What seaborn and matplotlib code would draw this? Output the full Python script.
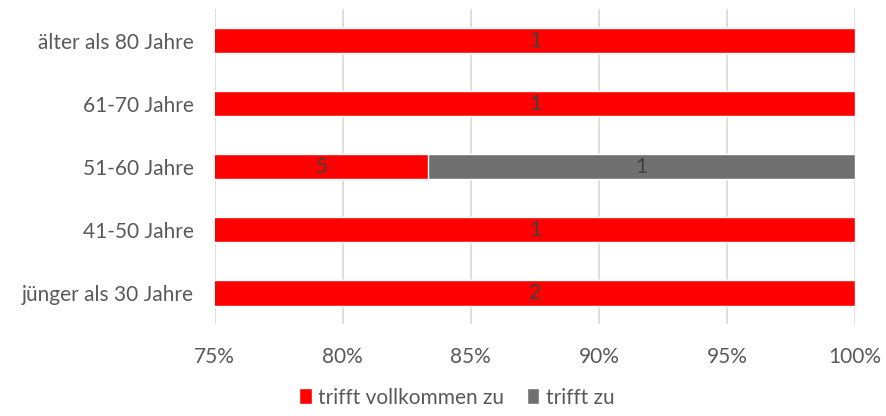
import numpy as np
import pandas as pd
import seaborn as sns
import matplotlib.pyplot as plt
from matplotlib.patches import Patch
from matplotlib.ticker import PercentFormatter

categories = ["älter als 80 Jahre", "61-70 Jahre", "51-60 Jahre", "41-50 Jahre", "jünger als 30 Jahre"]
voll = [1, 1, 5, 1, 2]      # trifft vollkommen zu
zu = [0, 0, 1, 0, 0]        # trifft zu
series_names = ["trifft vollkommen zu", "trifft zu"]

RED = "#ff0000"
GREY = "#707070"
TXT = "#595959"
FS = 15

sns.set_theme(style="white")
plt.rcParams['font.family'] = ['Lato', 'DejaVu Sans']

df = pd.DataFrame({"cat": categories, "voll": voll, "zu": zu})
df["total"] = df["voll"] + df["zu"]
df["p_voll"] = df["voll"] / df["total"] * 100
df["p_all"] = 100.0

fig, ax = plt.subplots(figsize=(8.87, 4.16), dpi=100)
fig.subplots_adjust(left=0.242, right=0.964, top=0.978, bottom=0.22)

sns.barplot(data=df, y="cat", x="p_all", color=GREY, orient="h", width=0.4,
            ax=ax, saturation=1, zorder=3)
sns.barplot(data=df, y="cat", x="p_voll", color=RED, orient="h", width=0.4,
            ax=ax, saturation=1, zorder=3)

xmin, xmax = 75, 100
ax.set_xlim(xmin, xmax)
ax.xaxis.set_major_formatter(PercentFormatter(decimals=0))
ax.set_xticks(np.arange(75, 101, 5))
ax.grid(axis="x", color="#d9d9d9", linewidth=1.2, zorder=0)
for s in ax.spines.values():
    s.set_visible(False)
ax.set_xlabel("")
ax.set_ylabel("")
ax.tick_params(axis="both", length=0, labelsize=FS, labelcolor=TXT)
ax.tick_params(axis="x", pad=16)
ax.tick_params(axis="y", pad=15)

# segment labels
for i, row in df.iterrows():
    left = xmin
    right = max(row["p_voll"], xmin)
    if row["voll"] > 0:
        ax.text((left + right) / 2, i, str(row["voll"]), ha="center", va="center",
                fontsize=FS, color="#404040", zorder=5)
    if row["zu"] > 0:
        ax.text((right + 100) / 2, i, str(row["zu"]), ha="center", va="center",
                fontsize=FS, color="#404040", zorder=5)

handles = [Patch(facecolor=RED, label=series_names[0]),
           Patch(facecolor=GREY, label=series_names[1])]
fig.legend(handles=handles, loc="lower center", ncol=2, frameon=False,
           bbox_to_anchor=(0.515, -0.025), fontsize=FS, handlelength=0.6,
           handleheight=0.8, handletextpad=0.3, columnspacing=1.1,
           labelcolor=TXT)

fig.savefig("out.png", dpi=100)
